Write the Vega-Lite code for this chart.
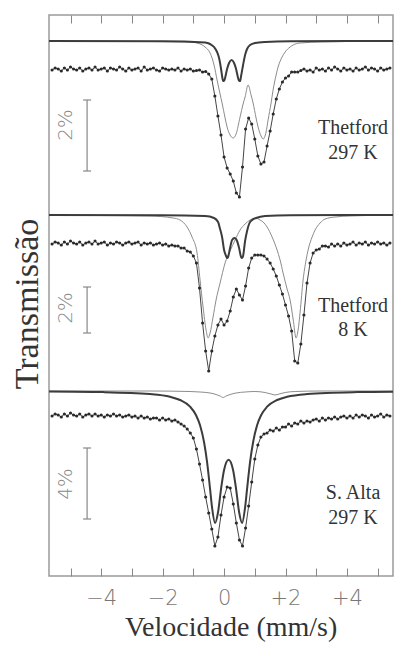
{
"$schema":"https://vega.github.io/schema/vega-lite/v6.json",
"width":344,"height":561,
"autosize":{"type":"none"},
"padding":{"left":49,"top":15,"right":4,"bottom":71},
"background":"white",
"config":{"view":{"stroke":"#9a9a9a","strokeWidth":1.5}},
"datasets":{
"obs":[
{"s":"a","v":-5.6,"T":506},{"s":"a","v":-5.5,"T":508},{"s":"a","v":-5.4,"T":507},{"s":"a","v":-5.3,"T":505},{"s":"a","v":-5.2,"T":508},{"s":"a","v":-5.1,"T":506},{"s":"a","v":-5.0,"T":509},{"s":"a","v":-4.9,"T":507},{"s":"a","v":-4.8,"T":506},{"s":"a","v":-4.7,"T":508},{"s":"a","v":-4.6,"T":505},{"s":"a","v":-4.5,"T":507},{"s":"a","v":-4.4,"T":508},{"s":"a","v":-4.3,"T":506},{"s":"a","v":-4.2,"T":509},{"s":"a","v":-4.1,"T":506},{"s":"a","v":-4.0,"T":507},{"s":"a","v":-3.9,"T":508},{"s":"a","v":-3.8,"T":505},{"s":"a","v":-3.7,"T":508},{"s":"a","v":-3.6,"T":507},{"s":"a","v":-3.5,"T":506},{"s":"a","v":-3.4,"T":509},{"s":"a","v":-3.3,"T":507},{"s":"a","v":-3.2,"T":505},{"s":"a","v":-3.1,"T":508},{"s":"a","v":-3.0,"T":506},{"s":"a","v":-2.9,"T":507},{"s":"a","v":-2.8,"T":508},{"s":"a","v":-2.7,"T":505},{"s":"a","v":-2.6,"T":509},{"s":"a","v":-2.5,"T":506},{"s":"a","v":-2.4,"T":507},{"s":"a","v":-2.3,"T":508},{"s":"a","v":-2.2,"T":506},{"s":"a","v":-2.1,"T":505},{"s":"a","v":-2.0,"T":508},{"s":"a","v":-1.9,"T":507},{"s":"a","v":-1.8,"T":506},{"s":"a","v":-1.7,"T":507},{"s":"a","v":-1.6,"T":506},{"s":"a","v":-1.5,"T":508},{"s":"a","v":-1.4,"T":505},{"s":"a","v":-1.3,"T":507},{"s":"a","v":-1.2,"T":506},{"s":"a","v":-1.1,"T":507},{"s":"a","v":-1.0,"T":505},{"s":"a","v":-0.9,"T":505.5},{"s":"a","v":-0.8,"T":506},{"s":"a","v":-0.7,"T":504},{"s":"a","v":-0.6,"T":504.5},{"s":"a","v":-0.5,"T":502},{"s":"a","v":-0.4,"T":497},{"s":"a","v":-0.3,"T":480},{"s":"a","v":-0.2,"T":460},{"s":"a","v":-0.1,"T":441},{"s":"a","v":0.0,"T":419},{"s":"a","v":0.1,"T":408},{"s":"a","v":0.2,"T":402},{"s":"a","v":0.3,"T":395},{"s":"a","v":0.4,"T":383},{"s":"a","v":0.5,"T":379},{"s":"a","v":0.6,"T":409},{"s":"a","v":0.7,"T":447},{"s":"a","v":0.8,"T":458},{"s":"a","v":0.9,"T":452},{"s":"a","v":1.0,"T":437},{"s":"a","v":1.1,"T":420},{"s":"a","v":1.2,"T":412},{"s":"a","v":1.3,"T":414},{"s":"a","v":1.4,"T":430},{"s":"a","v":1.5,"T":445},{"s":"a","v":1.6,"T":462},{"s":"a","v":1.7,"T":477},{"s":"a","v":1.8,"T":487},{"s":"a","v":1.9,"T":494},{"s":"a","v":2.0,"T":498},{"s":"a","v":2.1,"T":500},{"s":"a","v":2.2,"T":504},{"s":"a","v":2.3,"T":504},{"s":"a","v":2.4,"T":504},{"s":"a","v":2.5,"T":505.5},{"s":"a","v":2.6,"T":507},{"s":"a","v":2.7,"T":505},{"s":"a","v":2.8,"T":506},{"s":"a","v":2.9,"T":504},{"s":"a","v":3.0,"T":508},{"s":"a","v":3.1,"T":506},{"s":"a","v":3.2,"T":507},{"s":"a","v":3.3,"T":505},{"s":"a","v":3.4,"T":508},{"s":"a","v":3.5,"T":506},{"s":"a","v":3.6,"T":509},{"s":"a","v":3.7,"T":507},{"s":"a","v":3.8,"T":505},{"s":"a","v":3.9,"T":508},{"s":"a","v":4.0,"T":506},{"s":"a","v":4.1,"T":507},{"s":"a","v":4.2,"T":505},{"s":"a","v":4.3,"T":508},{"s":"a","v":4.4,"T":506},{"s":"a","v":4.5,"T":507},{"s":"a","v":4.6,"T":509},{"s":"a","v":4.7,"T":506},{"s":"a","v":4.8,"T":508},{"s":"a","v":4.9,"T":507},{"s":"a","v":5.0,"T":505},{"s":"a","v":5.1,"T":508},{"s":"a","v":5.2,"T":506},{"s":"a","v":5.3,"T":507},{"s":"a","v":5.4,"T":508},
{"s":"b","v":-5.6,"T":332},{"s":"b","v":-5.5,"T":334},{"s":"b","v":-5.4,"T":333},{"s":"b","v":-5.3,"T":331},{"s":"b","v":-5.2,"T":334},{"s":"b","v":-5.1,"T":332},{"s":"b","v":-5.0,"T":335},{"s":"b","v":-4.9,"T":333},{"s":"b","v":-4.8,"T":332},{"s":"b","v":-4.7,"T":334},{"s":"b","v":-4.6,"T":331},{"s":"b","v":-4.5,"T":333},{"s":"b","v":-4.4,"T":334},{"s":"b","v":-4.3,"T":332},{"s":"b","v":-4.2,"T":335},{"s":"b","v":-4.1,"T":332},{"s":"b","v":-4.0,"T":333},{"s":"b","v":-3.9,"T":334},{"s":"b","v":-3.8,"T":331},{"s":"b","v":-3.7,"T":333},{"s":"b","v":-3.6,"T":332},{"s":"b","v":-3.5,"T":334},{"s":"b","v":-3.4,"T":333},{"s":"b","v":-3.3,"T":331},{"s":"b","v":-3.2,"T":333},{"s":"b","v":-3.1,"T":334},{"s":"b","v":-3.0,"T":332},{"s":"b","v":-2.9,"T":333},{"s":"b","v":-2.8,"T":334},{"s":"b","v":-2.7,"T":331},{"s":"b","v":-2.6,"T":333},{"s":"b","v":-2.5,"T":332},{"s":"b","v":-2.4,"T":333},{"s":"b","v":-2.3,"T":331},{"s":"b","v":-2.2,"T":332},{"s":"b","v":-2.1,"T":333},{"s":"b","v":-2.0,"T":331},{"s":"b","v":-1.9,"T":332},{"s":"b","v":-1.8,"T":330},{"s":"b","v":-1.7,"T":331},{"s":"b","v":-1.6,"T":330},{"s":"b","v":-1.5,"T":330},{"s":"b","v":-1.4,"T":328},{"s":"b","v":-1.3,"T":328},{"s":"b","v":-1.2,"T":325},{"s":"b","v":-1.1,"T":324},{"s":"b","v":-1.0,"T":320},{"s":"b","v":-0.9,"T":313},{"s":"b","v":-0.8,"T":288},{"s":"b","v":-0.7,"T":253},{"s":"b","v":-0.6,"T":225},{"s":"b","v":-0.5,"T":205},{"s":"b","v":-0.4,"T":225},{"s":"b","v":-0.3,"T":240},{"s":"b","v":-0.2,"T":251},{"s":"b","v":-0.1,"T":257},{"s":"b","v":0.0,"T":251},{"s":"b","v":0.1,"T":255},{"s":"b","v":0.2,"T":265},{"s":"b","v":0.3,"T":279},{"s":"b","v":0.4,"T":287},{"s":"b","v":0.5,"T":281},{"s":"b","v":0.6,"T":276},{"s":"b","v":0.7,"T":290},{"s":"b","v":0.8,"T":308},{"s":"b","v":0.9,"T":318},{"s":"b","v":1.0,"T":321},{"s":"b","v":1.1,"T":321},{"s":"b","v":1.2,"T":321},{"s":"b","v":1.3,"T":320},{"s":"b","v":1.4,"T":317},{"s":"b","v":1.5,"T":313},{"s":"b","v":1.6,"T":307},{"s":"b","v":1.7,"T":300},{"s":"b","v":1.8,"T":291},{"s":"b","v":1.9,"T":282},{"s":"b","v":2.0,"T":271},{"s":"b","v":2.1,"T":260},{"s":"b","v":2.2,"T":245},{"s":"b","v":2.3,"T":215},{"s":"b","v":2.4,"T":213},{"s":"b","v":2.5,"T":232},{"s":"b","v":2.6,"T":261},{"s":"b","v":2.7,"T":293},{"s":"b","v":2.8,"T":313},{"s":"b","v":2.9,"T":323},{"s":"b","v":3.0,"T":326},{"s":"b","v":3.1,"T":327},{"s":"b","v":3.2,"T":330},{"s":"b","v":3.3,"T":330},{"s":"b","v":3.4,"T":329},{"s":"b","v":3.5,"T":332},{"s":"b","v":3.6,"T":330},{"s":"b","v":3.7,"T":332},{"s":"b","v":3.8,"T":330},{"s":"b","v":3.9,"T":333},{"s":"b","v":4.0,"T":331},{"s":"b","v":4.1,"T":332},{"s":"b","v":4.2,"T":334},{"s":"b","v":4.3,"T":331},{"s":"b","v":4.4,"T":333},{"s":"b","v":4.5,"T":332},{"s":"b","v":4.6,"T":334},{"s":"b","v":4.7,"T":331},{"s":"b","v":4.8,"T":333},{"s":"b","v":4.9,"T":332},{"s":"b","v":5.0,"T":334},{"s":"b","v":5.1,"T":332},{"s":"b","v":5.2,"T":333},{"s":"b","v":5.3,"T":331},{"s":"b","v":5.4,"T":333},
{"s":"c","v":-5.6,"T":160},{"s":"c","v":-5.5,"T":162},{"s":"c","v":-5.4,"T":161},{"s":"c","v":-5.3,"T":159},{"s":"c","v":-5.2,"T":162},{"s":"c","v":-5.1,"T":160},{"s":"c","v":-5.0,"T":163},{"s":"c","v":-4.9,"T":161},{"s":"c","v":-4.8,"T":160},{"s":"c","v":-4.7,"T":162},{"s":"c","v":-4.6,"T":159},{"s":"c","v":-4.5,"T":161},{"s":"c","v":-4.4,"T":162},{"s":"c","v":-4.3,"T":160},{"s":"c","v":-4.2,"T":162},{"s":"c","v":-4.1,"T":160},{"s":"c","v":-4.0,"T":161},{"s":"c","v":-3.9,"T":159},{"s":"c","v":-3.8,"T":161},{"s":"c","v":-3.7,"T":160},{"s":"c","v":-3.6,"T":162},{"s":"c","v":-3.5,"T":160},{"s":"c","v":-3.4,"T":161},{"s":"c","v":-3.3,"T":159},{"s":"c","v":-3.2,"T":160},{"s":"c","v":-3.1,"T":161},{"s":"c","v":-3.0,"T":159},{"s":"c","v":-2.9,"T":160},{"s":"c","v":-2.8,"T":158},{"s":"c","v":-2.7,"T":160},{"s":"c","v":-2.6,"T":158},{"s":"c","v":-2.5,"T":159},{"s":"c","v":-2.4,"T":157},{"s":"c","v":-2.3,"T":158},{"s":"c","v":-2.2,"T":158},{"s":"c","v":-2.1,"T":156},{"s":"c","v":-2.0,"T":158},{"s":"c","v":-1.9,"T":156},{"s":"c","v":-1.8,"T":157},{"s":"c","v":-1.7,"T":155},{"s":"c","v":-1.6,"T":156},{"s":"c","v":-1.5,"T":154},{"s":"c","v":-1.4,"T":152},{"s":"c","v":-1.3,"T":150},{"s":"c","v":-1.2,"T":147},{"s":"c","v":-1.1,"T":143},{"s":"c","v":-1.0,"T":138},{"s":"c","v":-0.9,"T":127},{"s":"c","v":-0.8,"T":112},{"s":"c","v":-0.7,"T":96},{"s":"c","v":-0.6,"T":79},{"s":"c","v":-0.5,"T":63},{"s":"c","v":-0.4,"T":47},{"s":"c","v":-0.3,"T":30},{"s":"c","v":-0.2,"T":39},{"s":"c","v":-0.1,"T":61},{"s":"c","v":0.0,"T":79},{"s":"c","v":0.1,"T":89},{"s":"c","v":0.2,"T":88},{"s":"c","v":0.3,"T":72},{"s":"c","v":0.4,"T":53},{"s":"c","v":0.5,"T":36},{"s":"c","v":0.6,"T":30},{"s":"c","v":0.7,"T":48},{"s":"c","v":0.8,"T":70},{"s":"c","v":0.9,"T":94},{"s":"c","v":1.0,"T":117},{"s":"c","v":1.1,"T":131},{"s":"c","v":1.2,"T":139},{"s":"c","v":1.3,"T":142},{"s":"c","v":1.4,"T":143},{"s":"c","v":1.5,"T":146},{"s":"c","v":1.6,"T":145},{"s":"c","v":1.7,"T":148},{"s":"c","v":1.8,"T":146},{"s":"c","v":1.9,"T":149},{"s":"c","v":2.0,"T":149},{"s":"c","v":2.1,"T":152},{"s":"c","v":2.2,"T":150},{"s":"c","v":2.3,"T":153},{"s":"c","v":2.4,"T":152},{"s":"c","v":2.5,"T":155},{"s":"c","v":2.6,"T":153},{"s":"c","v":2.7,"T":155},{"s":"c","v":2.8,"T":154},{"s":"c","v":2.9,"T":156},{"s":"c","v":3.0,"T":157},{"s":"c","v":3.1,"T":155},{"s":"c","v":3.2,"T":158},{"s":"c","v":3.3,"T":156},{"s":"c","v":3.4,"T":158},{"s":"c","v":3.5,"T":157},{"s":"c","v":3.6,"T":159},{"s":"c","v":3.7,"T":157},{"s":"c","v":3.8,"T":159},{"s":"c","v":3.9,"T":160},{"s":"c","v":4.0,"T":158},{"s":"c","v":4.1,"T":160},{"s":"c","v":4.2,"T":158},{"s":"c","v":4.3,"T":161},{"s":"c","v":4.4,"T":159},{"s":"c","v":4.5,"T":161},{"s":"c","v":4.6,"T":160},{"s":"c","v":4.7,"T":158},{"s":"c","v":4.8,"T":161},{"s":"c","v":4.9,"T":159},{"s":"c","v":5.0,"T":160},{"s":"c","v":5.1,"T":162},{"s":"c","v":5.2,"T":159},{"s":"c","v":5.3,"T":161},{"s":"c","v":5.4,"T":160}
],
"dark":[
{"s":"d1","v":-5.7,"T":535},{"s":"d1","v":-2.0,"T":534.8},{"s":"d1","v":-0.619,"T":533.5},{"s":"d1","v":-0.456,"T":532},{"s":"d1","v":-0.326,"T":529},{"s":"d1","v":-0.228,"T":524},{"s":"d1","v":-0.163,"T":518},{"s":"d1","v":-0.098,"T":507},{"s":"d1","v":-0.065,"T":500},{"s":"d1","v":-0.033,"T":495},{"s":"d1","v":0.0,"T":495},{"s":"d1","v":0.033,"T":498},{"s":"d1","v":0.098,"T":507},{"s":"d1","v":0.163,"T":513},{"s":"d1","v":0.244,"T":516},{"s":"d1","v":0.326,"T":513},{"s":"d1","v":0.391,"T":507},{"s":"d1","v":0.456,"T":498},{"s":"d1","v":0.489,"T":495},{"s":"d1","v":0.521,"T":495},{"s":"d1","v":0.554,"T":500},{"s":"d1","v":0.619,"T":511},{"s":"d1","v":0.684,"T":521},{"s":"d1","v":0.749,"T":527},{"s":"d1","v":0.847,"T":531},{"s":"d1","v":1.01,"T":533},{"s":"d1","v":1.336,"T":534},{"s":"d1","v":2.15,"T":534.7},{"s":"d1","v":5.5,"T":535},
{"s":"d2","v":-5.7,"T":361},{"s":"d2","v":-2.0,"T":360.8},{"s":"d2","v":-0.619,"T":360},{"s":"d2","v":-0.326,"T":358},{"s":"d2","v":-0.195,"T":354},{"s":"d2","v":-0.130,"T":347},{"s":"d2","v":-0.065,"T":339},{"s":"d2","v":0.0,"T":326},{"s":"d2","v":0.065,"T":320},{"s":"d2","v":0.098,"T":318},{"s":"d2","v":0.130,"T":319},{"s":"d2","v":0.195,"T":328},{"s":"d2","v":0.261,"T":336},{"s":"d2","v":0.342,"T":338},{"s":"d2","v":0.423,"T":335},{"s":"d2","v":0.489,"T":328},{"s":"d2","v":0.554,"T":319},{"s":"d2","v":0.586,"T":318},{"s":"d2","v":0.619,"T":320},{"s":"d2","v":0.684,"T":335},{"s":"d2","v":0.749,"T":345},{"s":"d2","v":0.814,"T":352},{"s":"d2","v":0.912,"T":356},{"s":"d2","v":1.042,"T":358},{"s":"d2","v":1.336,"T":360},{"s":"d2","v":2.15,"T":360.8},{"s":"d2","v":5.5,"T":361},
{"s":"d3","v":-5.7,"T":184.5},{"s":"d3","v":-3.94,"T":183.9},{"s":"d3","v":-2.41,"T":181.9},{"s":"d3","v":-1.759,"T":179.2},{"s":"d3","v":-1.433,"T":176},{"s":"d3","v":-1.107,"T":169.3},{"s":"d3","v":-0.912,"T":160.8},{"s":"d3","v":-0.782,"T":150.8},{"s":"d3","v":-0.651,"T":133.8},{"s":"d3","v":-0.554,"T":114.1},{"s":"d3","v":-0.456,"T":87.1},{"s":"d3","v":-0.391,"T":68.5},{"s":"d3","v":-0.293,"T":53.1},{"s":"d3","v":-0.195,"T":64},{"s":"d3","v":-0.098,"T":87.2},{"s":"d3","v":0.0,"T":106},{"s":"d3","v":0.147,"T":116.3},{"s":"d3","v":0.293,"T":106},{"s":"d3","v":0.391,"T":87.2},{"s":"d3","v":0.489,"T":64},{"s":"d3","v":0.586,"T":53.1},{"s":"d3","v":0.684,"T":68.5},{"s":"d3","v":0.749,"T":87.1},{"s":"d3","v":0.847,"T":114.1},{"s":"d3","v":0.945,"T":133.8},{"s":"d3","v":1.075,"T":150.8},{"s":"d3","v":1.205,"T":160.8},{"s":"d3","v":1.401,"T":169.3},{"s":"d3","v":1.726,"T":176},{"s":"d3","v":2.052,"T":179.2},{"s":"d3","v":2.704,"T":181.9},{"s":"d3","v":4.332,"T":183.9},{"s":"d3","v":5.5,"T":184.3}
],
"gray":[
{"s":"g1","v":-5.7,"T":535},{"s":"g1","v":-2.41,"T":534.5},{"s":"g1","v":-1.107,"T":534},{"s":"g1","v":-0.879,"T":533},{"s":"g1","v":-0.619,"T":529},{"s":"g1","v":-0.456,"T":523},{"s":"g1","v":-0.326,"T":511},{"s":"g1","v":-0.228,"T":496},{"s":"g1","v":-0.130,"T":482},{"s":"g1","v":-0.065,"T":473},{"s":"g1","v":0.033,"T":458},{"s":"g1","v":0.098,"T":449},{"s":"g1","v":0.195,"T":441},{"s":"g1","v":0.293,"T":438},{"s":"g1","v":0.391,"T":442},{"s":"g1","v":0.521,"T":459},{"s":"g1","v":0.619,"T":472},{"s":"g1","v":0.684,"T":479},{"s":"g1","v":0.782,"T":491},{"s":"g1","v":0.879,"T":481},{"s":"g1","v":0.945,"T":473},{"s":"g1","v":1.042,"T":458},{"s":"g1","v":1.107,"T":449},{"s":"g1","v":1.205,"T":440},{"s":"g1","v":1.270,"T":437},{"s":"g1","v":1.368,"T":444},{"s":"g1","v":1.433,"T":456},{"s":"g1","v":1.531,"T":473},{"s":"g1","v":1.596,"T":486},{"s":"g1","v":1.694,"T":501},{"s":"g1","v":1.759,"T":509},{"s":"g1","v":1.889,"T":519},{"s":"g1","v":1.987,"T":524},{"s":"g1","v":2.150,"T":529},{"s":"g1","v":2.248,"T":531},{"s":"g1","v":2.476,"T":533},{"s":"g1","v":3.127,"T":534},{"s":"g1","v":5.5,"T":535},
{"s":"g2","v":-5.7,"T":361},{"s":"g2","v":-4.04,"T":360.5},{"s":"g2","v":-2.41,"T":360},{"s":"g2","v":-1.661,"T":358},{"s":"g2","v":-1.433,"T":356},{"s":"g2","v":-1.205,"T":349},{"s":"g2","v":-1.042,"T":339},{"s":"g2","v":-0.879,"T":323},{"s":"g2","v":-0.782,"T":296},{"s":"g2","v":-0.684,"T":269},{"s":"g2","v":-0.586,"T":246},{"s":"g2","v":-0.521,"T":238},{"s":"g2","v":-0.456,"T":243},{"s":"g2","v":-0.358,"T":259},{"s":"g2","v":-0.261,"T":276},{"s":"g2","v":-0.130,"T":293},{"s":"g2","v":0.033,"T":313},{"s":"g2","v":0.195,"T":325},{"s":"g2","v":0.358,"T":336},{"s":"g2","v":0.521,"T":346},{"s":"g2","v":0.684,"T":352},{"s":"g2","v":0.847,"T":356},{"s":"g2","v":1.010,"T":358},{"s":"g2","v":1.173,"T":356},{"s":"g2","v":1.303,"T":353},{"s":"g2","v":1.401,"T":349},{"s":"g2","v":1.564,"T":339},{"s":"g2","v":1.726,"T":326},{"s":"g2","v":1.824,"T":316},{"s":"g2","v":1.922,"T":303},{"s":"g2","v":2.052,"T":287},{"s":"g2","v":2.150,"T":276},{"s":"g2","v":2.248,"T":257},{"s":"g2","v":2.345,"T":238},{"s":"g2","v":2.410,"T":246},{"s":"g2","v":2.476,"T":264},{"s":"g2","v":2.573,"T":296},{"s":"g2","v":2.671,"T":316},{"s":"g2","v":2.736,"T":326},{"s":"g2","v":2.866,"T":339},{"s":"g2","v":2.964,"T":346},{"s":"g2","v":3.127,"T":353},{"s":"g2","v":3.290,"T":357},{"s":"g2","v":3.616,"T":359},{"s":"g2","v":4.104,"T":360},{"s":"g2","v":5.5,"T":361},
{"s":"g3","v":-5.7,"T":185},{"s":"g3","v":-2.41,"T":185},{"s":"g3","v":-1.107,"T":184.5},{"s":"g3","v":-0.782,"T":184},{"s":"g3","v":-0.456,"T":183},{"s":"g3","v":-0.261,"T":181.5},{"s":"g3","v":-0.130,"T":180},{"s":"g3","v":-0.033,"T":178.5},{"s":"g3","v":0.065,"T":180},{"s":"g3","v":0.195,"T":181.5},{"s":"g3","v":0.391,"T":183},{"s":"g3","v":0.684,"T":184},{"s":"g3","v":1.010,"T":184.5},{"s":"g3","v":1.336,"T":183.5},{"s":"g3","v":1.531,"T":182},{"s":"g3","v":1.661,"T":181},{"s":"g3","v":1.792,"T":182},{"s":"g3","v":1.987,"T":183.5},{"s":"g3","v":2.313,"T":184.5},{"s":"g3","v":3.127,"T":185},{"s":"g3","v":5.5,"T":185}
],
"bars":[{"v":-4.46,"T1":476,"T2":405},{"v":-4.46,"T1":289,"T2":243},{"v":-4.46,"T1":128,"T2":57}],
"caps":[{"v1":-4.59,"v2":-4.33,"T":476},{"v1":-4.59,"v2":-4.33,"T":405},{"v1":-4.59,"v2":-4.33,"T":289},{"v1":-4.59,"v2":-4.33,"T":243},{"v1":-4.59,"v2":-4.33,"T":128},{"v1":-4.59,"v2":-4.33,"T":57}],
"pct":[{"v":-5.15,"T":451,"t":"2%"},{"v":-5.15,"T":268,"t":"2%"},{"v":-5.15,"T":92,"t":"4%"}],
"names":[{"v":4.2,"T":448,"t":"Thetford"},{"v":4.2,"T":423,"t":"297 K"},{"v":4.2,"T":270,"t":"Thetford"},{"v":4.2,"T":246,"t":"8 K"},{"v":4.2,"T":83,"t":"S. Alta"},{"v":4.2,"T":58,"t":"297 K"}],
"xtitle":[{"v":0.23,"T":-52,"t":"Velocidade (mm/s)"}],
"ytitle":[{"v":-6.38,"T":272,"t":"Transmissão"}]
},
"resolve":{"axis":{"x":"independent"}},
"layer":[
{"data":{"name":"gray"},"mark":{"type":"line","stroke":"#8c8c8c","strokeWidth":1,"interpolate":"monotone"},
"encoding":{"x":{"field":"v","type":"quantitative","scale":{"domain":[-5.7,5.5],"nice":false,"zero":false},
"axis":{"orient":"top","values":[-5,-4,-3,-2,-1,0,1,2,3,4,5],"labels":false,"domain":false,"grid":false,"tickSize":-8,"tickColor":"#888","tickWidth":1,"title":null}},
"y":{"field":"T","type":"quantitative","scale":{"domain":[0,561],"nice":false,"zero":false},"axis":null},"detail":{"field":"s"}}},
{"data":{"name":"dark"},"mark":{"type":"line","stroke":"#3c3c3c","strokeWidth":2,"interpolate":"monotone"},
"encoding":{"x":{"field":"v","type":"quantitative","axis":null},"y":{"field":"T","type":"quantitative","axis":null},"detail":{"field":"s"}}},
{"data":{"name":"obs"},"mark":{"type":"line","stroke":"#444","strokeWidth":1},
"encoding":{"x":{"field":"v","type":"quantitative",
"axis":{"orient":"bottom","values":[-5,-4,-3,-2,-1,0,1,2,3,4,5],"domain":false,"grid":false,"tickSize":-8,"tickColor":"#888","tickWidth":1,
"labelExpr":"datum.value % 2 != 0 ? '' : (datum.value > 0 ? '+' + datum.value : (datum.value < 0 ? '−' + abs(datum.value) : '0'))",
"labelFont":"DejaVu Sans","labelFontWeight":200,"labelFontSize":21,"labelColor":"#777","labelPadding":19,"title":null}},
"y":{"field":"T","type":"quantitative","axis":null},"detail":{"field":"s"}}},
{"data":{"name":"obs"},"mark":{"type":"circle","size":10,"color":"#2a2a2a","opacity":1},
"encoding":{"x":{"field":"v","type":"quantitative","axis":null},"y":{"field":"T","type":"quantitative","axis":null}}},
{"data":{"name":"bars"},"mark":{"type":"rule","color":"#888","strokeWidth":1.2},
"encoding":{"x":{"field":"v","type":"quantitative","axis":null},"y":{"field":"T1","type":"quantitative","axis":null},"y2":{"field":"T2"}}},
{"data":{"name":"caps"},"mark":{"type":"rule","color":"#888","strokeWidth":1.2},
"encoding":{"x":{"field":"v1","type":"quantitative","axis":null},"x2":{"field":"v2"},"y":{"field":"T","type":"quantitative","axis":null}}},
{"data":{"name":"pct"},"mark":{"type":"text","angle":270,"font":"DejaVu Sans","fontWeight":200,"fontSize":20,"color":"#888","align":"center","baseline":"middle"},
"encoding":{"x":{"field":"v","type":"quantitative","axis":null},"y":{"field":"T","type":"quantitative","axis":null},"text":{"field":"t"}}},
{"data":{"name":"names"},"mark":{"type":"text","font":"Liberation Serif","fontSize":20,"color":"#333","align":"center","baseline":"middle"},
"encoding":{"x":{"field":"v","type":"quantitative","axis":null},"y":{"field":"T","type":"quantitative","axis":null},"text":{"field":"t"}}},
{"data":{"name":"xtitle"},"mark":{"type":"text","font":"Liberation Serif","fontSize":28,"color":"#333","align":"center","baseline":"middle"},
"encoding":{"x":{"field":"v","type":"quantitative","axis":null},"y":{"field":"T","type":"quantitative","axis":null},"text":{"field":"t"}}},
{"data":{"name":"ytitle"},"mark":{"type":"text","font":"Liberation Serif","fontSize":34,"angle":270,"color":"#333","align":"center","baseline":"middle"},
"encoding":{"x":{"field":"v","type":"quantitative","axis":null},"y":{"field":"T","type":"quantitative","axis":null},"text":{"field":"t"}}}
]
}
